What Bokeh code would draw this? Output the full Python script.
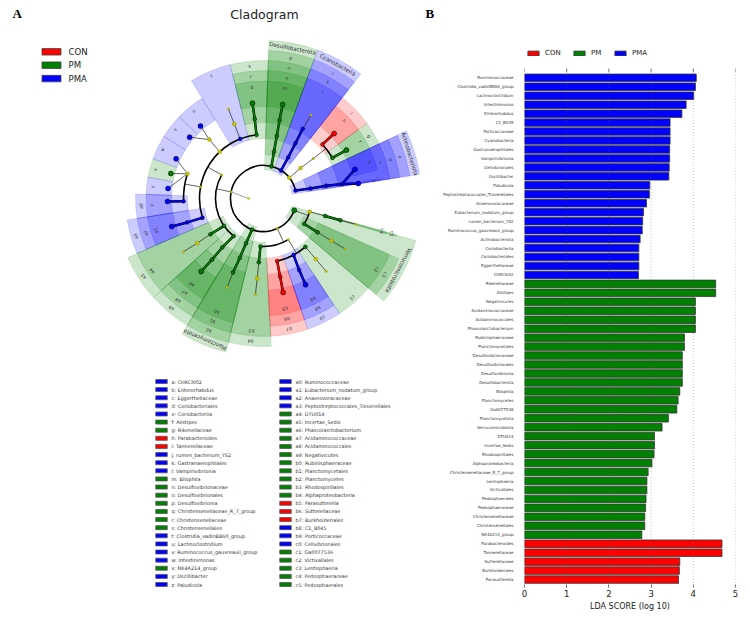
import math
from bokeh.plotting import figure
from bokeh.layouts import row
from bokeh.models import Range1d, FixedTicker, Legend, LegendItem
from bokeh.core.properties import value
from bokeh.embed import file_html
from bokeh.resources import INLINE

COLORS = {"CON": "#ff0000", "PM": "#008000", "PMA": "#0000ff"}
YELLOW = "#c4c400"

# ---------- LDA bars ----------
taxa_pma = ["Ruminococcaceae","Clostridia_vadinBB60_group","Lachnoclostridium","Intestinimonas","Enterorhabdus","C1_B045","Porticoccaceae","Cyanobacteria","Gastranaerophilales","Vampirivibrionia","Cellvibrionales","Oscillibacter","Paludicola","Peptostreptococcales_Tissierellales","Anaerovoracaceae","Eubacterium_nodatum_group","rumen_bacterium_YS2","Ruminococcus_gauvreauii_group","Actinobacteriota","Coriobacteriia","Coriobacteriales","Eggerthellaceae","CHKCI002"]
lda_pma = [4.07,4.05,4.01,3.83,3.73,3.45,3.45,3.45,3.44,3.44,3.43,3.42,2.97,2.96,2.89,2.82,2.80,2.79,2.74,2.71,2.71,2.71,2.70]
taxa_pm = ["Rikenellaceae","Alistipes","Negativicutes","Acidaminococcaceae","Acidaminococcales","Phascolarctobacterium","Rubinisphaeraceae","Planctomycetales","Desulfovibrionaceae","Desulfovibrionales","Desulfovibrionia","Desulfobacterota","Bilophila","Planctomycetes","Ga0077536","Planctomycetota","Verrucomicrobiota","DTU014","Incertae_Sedis","Rhodospirillales","Alphaproteobacteria","Christensenellaceae_R_7_group","Lentisphaeria","Victivallales","Pedosphaerales","Pedosphaeraceae","Christensenellaceae","Christensenellales","NK4A214_group"]
lda_pm = [4.53,4.53,4.05,4.05,4.05,4.05,3.79,3.79,3.74,3.74,3.74,3.74,3.68,3.64,3.61,3.41,3.26,3.08,3.08,3.07,3.02,2.93,2.90,2.90,2.88,2.87,2.85,2.85,2.78]
taxa_con = ["Parabacteroides","Tannerellaceae","Sutterellaceae","Burkholderiales","Parasutterella"]
lda_con = [4.68,4.68,3.68,3.67,3.65]
x_ticks = [0, 1, 2, 3, 4, 5]

# ---------- cladogram legend ----------
legend_col1 = [("a: CHKCI002","PMA"),("b: Enterorhabdus","PMA"),("c: Eggerthellaceae","PMA"),("d: Coriobacteriales","PMA"),("e: Coriobacteriia","PMA"),("f: Alistipes","PM"),("g: Rikenellaceae","PM"),("h: Parabacteroides","CON"),("i: Tannerellaceae","CON"),("j: rumen_bacterium_YS2","PMA"),("k: Gastranaerophilales","PMA"),("l: Vampirivibrionia","PMA"),("m: Bilophila","PM"),("n: Desulfovibrionaceae","PM"),("o: Desulfovibrionales","PM"),("p: Desulfovibrionia","PM"),("q: Christensenellaceae_R_7_group","PM"),("r: Christensenellaceae","PM"),("s: Christensenellales","PM"),("t: Clostridia_vadinBB60_group","PMA"),("u: Lachnoclostridium","PMA"),("v: Ruminococcus_gauvreauii_group","PMA"),("w: Intestinimonas","PMA"),("x: NK4A214_group","PM"),("y: Oscillibacter","PMA"),("z: Paludicola","PMA")]
legend_col2 = [("a0: Ruminococcaceae","PMA"),("a1: Eubacterium_nodatum_group","PMA"),("a2: Anaerovoracaceae","PMA"),("a3: Peptostreptococcales_Tissierellales","PMA"),("a4: DTU014","PM"),("a5: Incertae_Sedis","PM"),("a6: Phascolarctobacterium","PM"),("a7: Acidaminococcaceae","PM"),("a8: Acidaminococcales","PM"),("a9: Negativicutes","PM"),("b0: Rubinisphaeraceae","PM"),("b1: Planctomycetales","PM"),("b2: Planctomycetes","PM"),("b3: Rhodospirillales","PM"),("b4: Alphaproteobacteria","PM"),("b5: Parasutterella","CON"),("b6: Sutterellaceae","CON"),("b7: Burkholderiales","CON"),("b8: C1_B045","PMA"),("b9: Porticoccaceae","PMA"),("c0: Cellvibrionales","PMA"),("c1: Ga0077536","PM"),("c2: Victivallales","PM"),("c3: Lentisphaeria","PM"),("c4: Pedosphaeraceae","PM"),("c5: Pedosphaerales","PM")]

# ---------- cladogram clades: label, level (0 phylum .. 4 genus), from deg, to deg, group, label deg ----------
clades = [
 ("Actinobacteriota",0,8.8,25.3,"PMA",17),("e",1,8.8,25.3,"PMA",17),("d",2,8.8,25.3,"PMA",17),("c",3,8.8,25.3,"PMA",17),("b",4,14,25.3,"PMA",19),("a",4,8.8,9.6,"PMA",9.2),
 ("g",3,25.3,36,"PM",30.5),("f",4,25.3,36,"PM",30.5),
 ("i",3,36,52,"CON",44),("h",4,36,52,"CON",44),
 ("Cyanobacteria",0,52,70,"PMA",61),("l",1,52,70,"PMA",61),("k",2,52,70,"PMA",61),("j",3,52,70,"PMA",61),
 ("Desulfobacterota",0,70,88,"PM",79),("p",1,70,88,"PM",79),("o",2,70,88,"PM",79),("n",3,70,88,"PM",79),("m",4,70,88,"PM",79),
 ("s",2,88,104,"PM",96),("r",3,88,104,"PM",96),("q",4,88,104,"PM",96),
 ("t",2,104,121.5,"PMA",113),
 ("u",4,121.5,135.8,"PMA",128.5),("v",4,135.8,148.1,"PMA",142),("w",4,148.1,160.3,"PMA",154),("x",4,160.3,169.5,"PM",165),("y",4,169.5,178,"PMA",174),
 ("a0",3,178,189,"PMA",183.5),("z",4,178,189,"PMA",183.5),
 ("a3",2,189,203.5,"PMA",196.5),("a2",3,189,203.5,"PMA",196.5),("a1",4,189,203.5,"PMA",196.5),
 ("a5",1,203.5,222,"PM",213),("a4",2,203.5,222,"PM",213),
 ("a9",1,222,239,"PM",230),("a8",2,222,239,"PM",230),("a7",3,222,239,"PM",230),("a6",4,222,239,"PM",230),
 ("Planctomycetota",0,239,256.3,"PM",247.5),("b2",1,239,256.3,"PM",247.5),("b1",2,239,256.3,"PM",247.5),("b0",3,239,256.3,"PM",247.5),
 ("b4",1,256.3,273,"PM",264.8),("b3",2,256.3,273,"PM",264.8),
 ("b7",2,273,288.7,"CON",281),("b6",3,273,288.7,"CON",281),("b5",4,273,288.7,"CON",281),
 ("c0",2,288.7,303.5,"PMA",296.2),("b9",3,288.7,303.5,"PMA",296.2),("b8",4,288.7,303.5,"PMA",296.2),
 ("c1",2,303.5,319.5,"PM",311.7),
 ("Verrucomicrobiota",0,319.5,344.6,"PM",332),("c3",1,319.5,336,"PM",327.8),("c2",2,319.5,336,"PM",327.8),
 ("c5",2,344,344.8,"PM",344.6),("c4",3,344,344.8,"PM",344.6),
]

# ---------- tree nodes: id, parent, level, deg, group (None = yellow) ----------
nodes = [
 ("actino",None,0,14,"PMA"),("n_e","actino",1,12,"PMA"),("n_d","n_e",2,11.5,"PMA"),("n_c","n_d",3,10.5,"PMA"),("n_a","n_c",4,9,"PMA"),("n_b","n_c",4,17.7,"PMA"),
 ("bact",None,0,38.7,None),("bact1","bact",1,39.4,None),("bact2","bact1",2,38.7,None),
 ("n_i",None,3,42.5,"CON"),("n_h","n_i",4,42.6,"CON"),("n_g",None,3,30.5,"PM"),("n_f","n_g",4,30.3,"PM"),
 ("cyano",None,0,58,"PMA"),("n_l","cyano",1,59,"PMA"),("n_k","n_l",2,60,"PMA"),("n_j","n_k",3,60.6,"PMA"),("cy4","n_j",4,60.4,None),
 ("desulfo",None,0,76,"PM"),("n_p","desulfo",1,77.4,"PM"),("n_o","n_p",2,78,"PM"),("n_n","n_o",3,78.4,"PM"),("n_m","n_n",4,78.5,"PM"),
 ("firm",None,0,168.5,None),("clos",None,1,150.6,None),
 ("n_s",None,2,96.3,"PM"),("n_r","n_s",3,96.3,"PM"),("n_q","n_r",4,96.6,"PM"),
 ("n_t",None,2,111.4,"PMA"),("t3","n_t",3,111.4,None),("t4","t3",4,111.4,None),
 ("o133",None,2,133.2,None),("f132","o133",3,132.6,None),("n_u","f132",4,131,"PMA"),("n_v","f132",4,140.3,"PMA"),
 ("o170",None,2,169.6,None),("f162",None,3,162,None),("n_w","f162",4,155.6,"PMA"),("n_x","f162",4,164.9,"PM"),("n_y","f162",4,174,"PMA"),
 ("n_a0",None,3,182,"PMA"),("n_z","n_a0",4,181.8,"PMA"),
 ("n_a3",None,2,197.5,"PMA"),("n_a2","n_a3",3,197.4,"PMA"),("n_a1","n_a2",4,197,"PMA"),
 ("n_a5",None,1,214.7,"PM"),("n_a4","n_a5",2,214,"PM"),("a43","n_a4",3,214,None),("a44","a43",4,213.6,None),
 ("n_a9",None,1,231.5,"PM"),("n_a8","n_a9",2,229.9,"PM"),("n_a7","n_a8",3,229.9,"PM"),("n_a6","n_a7",4,229.5,"PM"),
 ("plancto",None,0,249.8,"PM"),("n_b2","plancto",1,248.7,"PM"),("n_b1","n_b2",2,248.2,"PM"),("n_b0","n_b1",3,247.6,"PM"),("b04","n_b0",4,247.7,None),
 ("proteo",None,0,294.7,None),("n_b4",None,1,266.4,"PM"),("n_b3","n_b4",2,265.8,"PM"),("b33","n_b3",3,265.5,None),("b34","b33",4,265.2,None),
 ("gamma",None,1,301.1,None),("n_b7",None,2,282.3,"CON"),("n_b6","n_b7",3,282,"CON"),("n_b5","n_b6",4,281.8,"CON"),
 ("n_c0",None,2,298,"PMA"),("n_b9","n_c0",3,296.5,"PMA"),("n_b8","n_b9",4,296,"PMA"),
 ("n_c1",None,2,310.9,"PM"),("c13","n_c1",3,310.8,None),("c14","c13",4,310.7,None),
 ("verru",None,0,339,"PM"),("n_c3",None,1,328,"PM"),("n_c2","n_c3",2,328,"PM"),("c23","n_c2",3,328.1,None),("c24","c23",4,328.3,None),
 ("v344",None,1,344,None),("n_c5","v344",2,344.2,"PM"),("n_c4","n_c5",3,344.2,"PM"),("c44","n_c4",4,344.4,None),
]
# arcs: parent node (or None), level of the arc, from deg, to deg, deg of the parent stub
arcs = [
 (None,0,14,339,None),("firm",1,150.6,231.5,168.5),("clos",2,96.3,197.5,150.6),("o170",3,162,182,169.6),
 ("bact2",3,30.5,42.5,38.7),("proteo",1,266.4,301.1,294.7),("gamma",2,282.3,310.9,301.1),("verru",1,328,344,339),
]

W_L, W_R, H = 436, 314, 617
BOTTOM = 30
RADII = [33, 48, 64, 80, 96]
OUTER = [158, 148, 138, 128, 117.5]
LABEL_R = [153, 143, 133, 122.5, 112]
CX, CY = 263, 419            # centre of the cladogram in the panel's own units
rad = math.radians

left = figure(width=W_L, height=H, x_range=Range1d(0, W_L), y_range=Range1d(BOTTOM, H),
              output_backend="svg", toolbar_location=None, min_border=0, min_border_bottom=BOTTOM, outline_line_color=None)
left.axis.visible = False
left.grid.visible = False

def pol(level_r, deg):
    return CX + level_r * math.cos(rad(deg)), CY + level_r * math.sin(rad(deg))

for name, lv, a0, a1, grp, lab in clades:
    left.annular_wedge([CX], [CY], inner_radius=RADII[lv] - 4, outer_radius=OUTER[lv],
                       start_angle=rad(a0), end_angle=rad(a1), fill_color=COLORS[grp], fill_alpha=0.2,
                       line_color=COLORS[grp], line_alpha=0.25, line_width=0.5)
for name, lv, a0, a1, grp, lab in clades:
    x, y = pol(LABEL_R[lv], lab)
    left.text([x], [y], text=[name], angle=rad(lab - 90), text_align="center", text_baseline="middle",
              text_font=value("DejaVu Sans"), text_font_size="5.5px" if len(name) > 2 else "4.6px", text_color="#333333")

for parent, lv, a0, a1, stub in arcs:
    left.arc([CX], [CY], radius=RADII[lv], start_angle=rad(a0), end_angle=rad(a1), line_color="black", line_width=1.6)
    if parent:
        pn = next(n for n in nodes if n[0] == parent)
        x0, y0 = pol(RADII[pn[2]], pn[3])
        x1, y1 = pol(RADII[lv], stub)
        left.line([x0, x1], [y0, y1], line_color="#222222", line_width=0.7)

rx0, ry0 = pol(RADII[0], 168.5)
rx1, ry1 = pol(15, 180)
left.line([rx0, rx1], [ry0, ry1], line_color="#888888", line_width=0.8)
left.scatter([rx1], [ry1], size=2.5, fill_color=YELLOW, line_color=None)

by_id = {n[0]: n for n in nodes}
children = {n[1] for n in nodes if n[1]}
for nid, par, lv, deg, grp in nodes:
    if not par:
        continue
    pn = by_id[par]
    x0, y0 = pol(RADII[pn[2]], pn[3])
    x1, y1 = pol(RADII[lv], deg)
    if grp and pn[4] == grp:
        left.line([x0, x1], [y0, y1], line_color="black", line_width=2.5)
        left.line([x0, x1], [y0, y1], line_color=COLORS[grp], line_width=1.7)
    else:
        left.line([x0, x1], [y0, y1], line_color="#222222", line_width=0.7)
for nid, par, lv, deg, grp in nodes:
    x, y = pol(RADII[lv], deg)
    if grp:
        size = 5.0 if nid not in children else 3.8
        left.scatter([x], [y], size=size, fill_color=COLORS[grp], line_color="black", line_width=0.5)
    else:
        size = 2.4 if nid not in children else 4.0
        left.scatter([x], [y], size=size, fill_color=YELLOW, line_color="#777700", line_width=0.3)

PANEL_TEXT = dict(text_baseline="middle", text_font=value("DejaVu Sans"))
left.text([264], [603], text=["Cladogram"], text_align="center", text_font_size="12.5px", text_color="#222222", **PANEL_TEXT)
for letter, lx in (("A", 12), ("B", 425)):
    left.text([lx], [604], text=[letter], text_font_size="13px", text_font_style="bold", text_baseline="middle",
              text_font=value("Liberation Serif"), text_color="black")

for i, g in enumerate(COLORS):
    yy = 617 - (51.3 + i * 13.4)
    left.rect([51], [yy], width=19, height=6.5, fill_color=COLORS[g], line_color="#444444", line_width=0.8)
    left.text([68], [yy], text=[g], text_font_size="8.6px", text_color="#222222", **PANEL_TEXT)

for col, sx, tx in ((legend_col1, 161, 171), (legend_col2, 285, 295)):
    for i, (t, g) in enumerate(col):
        yy = 617 - (381 + i * 8.12)
        left.rect([sx], [yy], width=11.5, height=4, fill_color=COLORS[g], line_color="#555555", line_width=0.8)
        left.text([tx], [yy], text=[t], text_font_size="4.9px", text_color="#333333", **PANEL_TEXT)

# ---------- bars ----------
right = figure(width=W_R, height=H, x_range=Range1d(0, 5), y_range=Range1d(56.886, -8.627),
               output_backend="svg", toolbar_location=None,
               min_border_left=88, min_border_right=15, min_border_top=0, min_border_bottom=BOTTOM,
               outline_line_color=None)
all_names = taxa_pma + taxa_pm + taxa_con
rend = {}
offset = 0
for g, vals in (("PMA", lda_pma), ("PM", lda_pm), ("CON", lda_con)):
    ys = list(range(offset, offset + len(vals)))
    rend[g] = right.hbar(y=ys, left=0, right=vals, height=0.84, fill_color=COLORS[g], line_color="#333333", line_width=0.8)
    offset += len(vals)

right.grid.visible = False
n = len(all_names)
right.segment(x_ticks, [-0.65] * 6, x_ticks, [n - 0.6] * 6, line_color="#666666", line_alpha=0.6, line_dash="1 2", line_width=0.7)
right.segment(x_ticks, [-1.04] * 6, x_ticks, [-0.65] * 6, line_color="#333333", line_width=0.7)

ax = right.xaxis[0]
ax.ticker = FixedTicker(ticks=x_ticks)
ax.axis_label = "LDA SCORE (log 10)"
ax.axis_label_text_font = "DejaVu Sans"
ax.axis_label_text_font_style = "normal"
ax.axis_label_text_font_size = "8px"
ax.axis_label_text_color = "#222222"
ax.axis_label_standoff = 2
ax.major_label_text_font = "DejaVu Sans"
ax.major_label_text_font_size = "8.5px"
ax.major_label_text_color = "#222222"
ax.major_label_standoff = 2
ax.axis_line_color = None
ax.major_tick_in = 3
ax.major_tick_out = 0
ax.major_tick_line_color = "#333333"
ax.major_tick_line_width = 0.7
ax.minor_tick_line_color = None

yax = right.yaxis[0]
yax.ticker = FixedTicker(ticks=list(range(n)))
yax.major_label_overrides = {i: t for i, t in enumerate(all_names)}
yax.major_label_text_font = "DejaVu Sans"
yax.major_label_text_font_size = "4px"
yax.major_label_text_color = "#333333"
yax.major_label_standoff = 5
yax.axis_line_color = None
yax.major_tick_line_color = None
yax.minor_tick_line_color = None

for g, lx in zip(COLORS, (2, 48, 89)):
    right.add_layout(Legend(items=[LegendItem(label=g, renderers=[rend[g]])],
                            location=(lx, 530), padding=0, margin=0, glyph_width=14, glyph_height=6, label_standoff=5,
                            label_text_font="DejaVu Sans", label_text_font_size="7px", label_height=6, label_text_color="#222222",
                            border_line_color=None, background_fill_alpha=0), "center")

open("out.html", "w").write(file_html(row(left, right), INLINE))
